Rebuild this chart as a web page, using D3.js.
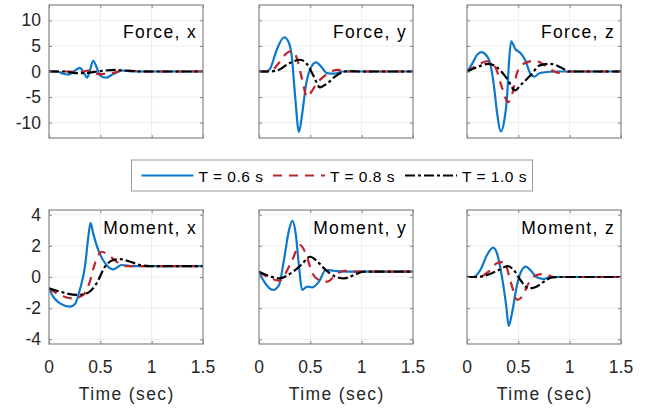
<!DOCTYPE html>
<html>
<head>
<meta charset="utf-8">
<script src="https://cdn.jsdelivr.net/npm/d3@7"></script>
<style>
  html, body { margin: 0; padding: 0; background: #fff; }
  svg { display: block; font-family: "Liberation Sans", Arial, Helvetica, sans-serif; }
</style>
</head>
<body>
<svg id="chart" width="651" height="413"></svg>
<script>
// Time responses of the six wrench components for three move durations.
// Each series is a list of [time (s), value] samples.

const seriesLabels = ["T = 0.6 s", "T = 0.8 s", "T = 1.0 s"];
const panelTitles = ["Force, x", "Force, y", "Force, z", "Moment, x", "Moment, y", "Moment, z"];
const xTicks = [0, 0.5, 1, 1.5];
const forceTicks = [-10, -5, 0, 5, 10];
const momentTicks = [-4, -2, 0, 2, 4];
const xAxisLabel = "Time (sec)";

// Force, x
const fxT06 = [[0,0],[0.08,0],[0.14,-0.45],[0.19,-0.6],[0.25,0.1],[0.30,0.7],[0.34,-0.2],[0.37,-1.2],[0.40,0.3],[0.43,2.1],[0.47,0.5],[0.50,-0.8],[0.555,-1.2],[0.63,-0.45],[0.72,0.2],[0.82,0],[1.5,0]];
const fxT08 = [[0,0],[0.2,0],[0.3,-0.2],[0.38,0.2],[0.48,-0.5],[0.6,-0.4],[0.72,0.2],[0.85,0.1],[1.0,0],[1.5,0]];
const fxT10 = [[0,0],[0.15,0],[0.25,-0.3],[0.35,-0.3],[0.5,0.1],[0.65,0.3],[0.8,0.1],[0.95,0],[1.5,0]];

// Force, y
const fyT06 = [[0,0],[0.07,0],[0.107,0.5],[0.17,4.1],[0.245,6.7],[0.285,5.9],[0.32,2.8],[0.35,-4.4],[0.39,-11.8],[0.425,-7.6],[0.457,-2.7],[0.50,0.5],[0.555,1.8],[0.61,0.85],[0.66,-0.3],[0.74,-0.4],[0.82,0],[1.5,0]];
const fyT08 = [[0,0],[0.1,0],[0.2,1.8],[0.27,3.6],[0.33,4.0],[0.37,2.5],[0.415,-1.1],[0.47,-5.0],[0.51,-4.0],[0.56,-2.4],[0.63,-1.0],[0.69,-0.1],[0.77,0.3],[0.85,0],[1.5,0]];
const fyT10 = [[0,0],[0.1,0],[0.19,0.3],[0.285,1.5],[0.40,2.3],[0.465,1.5],[0.53,-0.8],[0.594,-3.1],[0.66,-2.4],[0.74,-1.0],[0.82,-0.1],[0.88,0.1],[1.0,0],[1.5,0]];

// Force, z
const fzT06 = [[0,0],[0.05,1.5],[0.10,3.3],[0.14,3.8],[0.21,2.5],[0.26,-2.4],[0.29,-7.6],[0.33,-11.7],[0.363,-9.6],[0.39,-5.0],[0.41,2.1],[0.43,5.9],[0.47,4.4],[0.52,3.6],[0.57,2.1],[0.617,-0.45],[0.655,-1.0],[0.71,-0.3],[0.85,0],[1.5,0]];
const fzT08 = [[0,0],[0.1,1.2],[0.195,2.0],[0.275,0.85],[0.34,-3.1],[0.40,-6.0],[0.44,-4.4],[0.49,-0.1],[0.55,1.5],[0.665,2.1],[0.76,1.2],[0.86,-0.1],[0.92,-0.3],[1.0,0],[1.5,0]];
const fzT10 = [[0,0],[0.1,0.85],[0.21,1.5],[0.29,0.85],[0.39,-1.4],[0.47,-3.7],[0.52,-2.7],[0.617,-0.8],[0.71,1.2],[0.81,1.5],[0.91,0.85],[1.0,0],[1.5,0]];

// Moment, x
const mxT06 = [[0,-0.73],[0.04,-1.26],[0.107,-1.69],[0.205,-1.9],[0.253,-1.73],[0.30,-0.83],[0.35,0.66],[0.383,2.58],[0.405,3.48],[0.43,2.8],[0.48,1.73],[0.56,0.77],[0.627,0.49],[0.708,0.77],[0.82,0.7],[1.5,0.7]];
const mxT08 = [[0,-0.73],[0.107,-1.15],[0.237,-1.37],[0.334,-1.15],[0.393,-0.4],[0.448,0.88],[0.513,1.62],[0.578,1.41],[0.66,0.98],[0.755,0.7],[0.88,0.7],[1.5,0.7]];
const mxT10 = [[0,-0.73],[0.107,-0.94],[0.27,-1.15],[0.367,-1.05],[0.464,-0.4],[0.545,0.66],[0.627,1.09],[0.69,1.15],[0.79,0.98],[0.886,0.77],[0.98,0.7],[1.5,0.7]];

// Moment, y
const myT06 = [[0,0.34],[0.05,-0.3],[0.136,-0.83],[0.195,-0.51],[0.243,1.09],[0.292,3.0],[0.325,3.6],[0.357,2.8],[0.39,0.66],[0.42,-0.83],[0.47,-0.62],[0.52,-0.66],[0.584,-0.3],[0.65,0.45],[0.73,0.4],[0.85,0.34],[1.5,0.34]];
const myT08 = [[0,0.34],[0.114,-0.09],[0.195,-0.24],[0.31,0.88],[0.40,2.05],[0.455,1.52],[0.52,0.24],[0.60,-0.24],[0.665,-0.3],[0.747,0.13],[0.83,0.4],[0.95,0.34],[1.5,0.34]];
const myT10 = [[0,0.34],[0.1,0.06],[0.195,-0.09],[0.31,0.24],[0.41,0.77],[0.50,1.3],[0.57,0.98],[0.65,0.45],[0.747,0.02],[0.83,-0.09],[0.925,0.13],[1.02,0.34],[1.5,0.34]];

// Moment, z
const mzT06 = [[0,0],[0.06,0],[0.13,0.45],[0.195,1.41],[0.253,1.88],[0.292,1.52],[0.34,0.02],[0.383,-1.9],[0.406,-3.14],[0.438,-2.33],[0.487,-0.51],[0.526,0.34],[0.575,0.66],[0.617,0.45],[0.68,-0.02],[0.75,-0.13],[0.81,0],[1.5,0]];
const mzT08 = [[0,0],[0.11,0],[0.21,0.34],[0.29,0.88],[0.363,0.98],[0.42,-0.19],[0.49,-1.47],[0.536,-1.26],[0.60,-0.4],[0.68,0.13],[0.76,0.19],[0.84,0],[1.5,0]];
const mzT10 = [[0,0],[0.1,0],[0.195,0.13],[0.31,0.45],[0.396,0.7],[0.455,0.45],[0.52,-0.19],[0.60,-0.73],[0.665,-0.66],[0.75,-0.3],[0.83,-0.02],[0.9,0],[1.5,0]];

const panelSeries = [
  [fxT06, fxT08, fxT10], [fyT06, fyT08, fyT10], [fzT06, fzT08, fzT10],
  [mxT06, mxT08, mxT10], [myT06, myT08, myT10], [mzT06, mzT08, mzT10]
];

// Styling
const lineStyles = [
  { color: "#0b78cc", dash: null },
  { color: "#c0232b", dash: "9,7" },
  { color: "#000000", dash: "10,3,3,3" }
];
const axisColor = "#858585";
const gridColor = "#ececec";
const textColor = "#262626";

const svg = d3.select("#chart");

const colLeft = [49, 259, 467];
const panelW = 154;
const rowTop = [5, 210];
const rowH = [133, 134];
const rowDomain = [[-13, 13], [-4.3, 4.3]];
const rowTicks = [forceTicks, momentTicks];

const defs = svg.append("defs");

panelTitles.forEach((title, i) => {
  const row = Math.floor(i / 3), col = i % 3;
  const x0 = colLeft[col], y0 = rowTop[row];
  const x = d3.scaleLinear().domain([0, 1.5]).range([x0, x0 + panelW]);
  const y = d3.scaleLinear().domain(rowDomain[row]).range([y0 + rowH[row], y0]);
  const g = svg.append("g");

  defs.append("clipPath").attr("id", "clip" + i)
    .append("rect").attr("x", x0).attr("y", y0).attr("width", panelW).attr("height", rowH[row]);

  // grid
  g.selectAll(".gx").data(xTicks.slice(1, -1)).join("line")
    .attr("x1", d => x(d)).attr("x2", d => x(d))
    .attr("y1", y0).attr("y2", y0 + rowH[row])
    .attr("stroke", gridColor).attr("stroke-width", 1);
  g.selectAll(".gy").data(rowTicks[row]).join("line")
    .attr("x1", x0).attr("x2", x0 + panelW)
    .attr("y1", d => y(d)).attr("y2", d => y(d))
    .attr("stroke", gridColor).attr("stroke-width", 1);

  // series
  const line = d3.line().x(d => x(d[0])).y(d => y(d[1])).curve(d3.curveMonotoneX);
  const lg = g.append("g").attr("clip-path", `url(#clip${i})`);
  panelSeries[i].forEach((s, k) => {
    lg.append("path").datum(s)
      .attr("d", line)
      .attr("fill", "none")
      .attr("stroke", lineStyles[k].color)
      .attr("stroke-width", 2.2)
      .attr("stroke-linejoin", "round")
      .attr("stroke-dasharray", lineStyles[k].dash);
  });

  // axes with inward ticks on all sides
  const tl = 3;
  const axL = d3.axisRight(y).tickValues(rowTicks[row]).tickSize(tl).tickFormat("");
  const axR = d3.axisLeft(y).tickValues(rowTicks[row]).tickSize(tl).tickFormat("");
  const axB = d3.axisTop(x).tickValues(xTicks).tickSize(tl).tickFormat("");
  const axT = d3.axisBottom(x).tickValues(xTicks).tickSize(tl).tickFormat("");
  [[axL, `translate(${x0},0)`], [axR, `translate(${x0 + panelW},0)`],
   [axB, `translate(0,${y0 + rowH[row]})`], [axT, `translate(0,${y0})`]].forEach(([ax, tr]) => {
    const a = g.append("g").attr("transform", tr).call(ax);
    a.select(".domain").remove();
    a.selectAll(".tick line").attr("stroke", axisColor).attr("stroke-width", 1);
  });
  g.append("rect").attr("x", x0).attr("y", y0).attr("width", panelW).attr("height", rowH[row])
    .attr("fill", "none").attr("stroke", axisColor).attr("stroke-width", 1.2);

  // y tick labels on the first column
  if (col === 0) {
    g.selectAll(".yl").data(rowTicks[row]).join("text")
      .attr("x", x0 - 8).attr("y", d => y(d)).attr("dy", "0.35em")
      .attr("text-anchor", "end").attr("font-size", 17.5).attr("fill", textColor)
      .text(d => d3.format("")(d).replace("−", "-"));
  }
  // x tick labels and axis label on the bottom row
  if (row === 1) {
    g.selectAll(".xl").data(xTicks).join("text")
      .attr("x", d => x(d)).attr("y", 373)
      .attr("text-anchor", "middle").attr("font-size", 17.5).attr("fill", textColor)
      .text(d => d3.format("")(d));
    g.append("text")
      .attr("x", x0 + panelW / 2 + 0.7).attr("y", 400)
      .attr("text-anchor", "middle").attr("font-size", 17.5).attr("letter-spacing", 1.4)
      .attr("fill", textColor).text(xAxisLabel);
  }

  // panel title
  g.append("text")
    .attr("x", x0 + panelW - 6).attr("y", row === 0 ? y0 + 32.5 : y0 + 23.5)
    .attr("text-anchor", "end").attr("font-size", 17.5).attr("letter-spacing", 1.35)
    .attr("fill", "#000").text(title);
});

// legend
const legend = svg.append("g");
legend.append("rect").attr("x", 131.5).attr("y", 160).attr("width", 401).attr("height", 31)
  .attr("fill", "#fff").attr("stroke", "#999").attr("stroke-width", 1);
const legendStarts = [141.5, 273, 405];
seriesLabels.forEach((lab, k) => {
  const sx = legendStarts[k];
  legend.append("line")
    .attr("x1", sx).attr("x2", sx + 52).attr("y1", 175.5).attr("y2", 175.5)
    .attr("stroke", lineStyles[k].color).attr("stroke-width", 2.2)
    .attr("stroke-dasharray", lineStyles[k].dash);
  legend.append("text")
    .attr("x", sx + 57).attr("y", 181.5)
    .attr("font-size", 15.5).attr("letter-spacing", 0.5).attr("fill", "#000")
    .text(lab);
});
</script>
</body>
</html>
